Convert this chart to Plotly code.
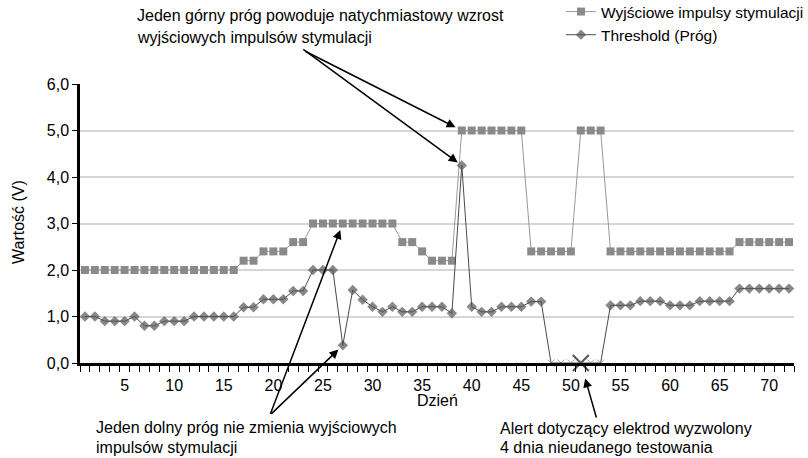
import plotly.graph_objects as go

# Days on the x axis (category axis, 72 days)
days = list(range(1, 73))

# Output pacing pulses (V)
pacing = [2.0, 2.0, 2.0, 2.0, 2.0, 2.0, 2.0, 2.0, 2.0, 2.0, 2.0, 2.0, 2.0, 2.0, 2.0, 2.0,
          2.2, 2.2, 2.4, 2.4, 2.4, 2.6, 2.6,
          3.0, 3.0, 3.0, 3.0, 3.0, 3.0, 3.0, 3.0, 3.0,
          2.6, 2.6, 2.4, 2.2, 2.2, 2.2,
          5.0, 5.0, 5.0, 5.0, 5.0, 5.0, 5.0,
          2.4, 2.4, 2.4, 2.4, 2.4,
          5.0, 5.0, 5.0,
          2.4, 2.4, 2.4, 2.4, 2.4, 2.4, 2.4, 2.4, 2.4, 2.4, 2.4, 2.4, 2.4,
          2.6, 2.6, 2.6, 2.6, 2.6, 2.6]

# Threshold (V)
threshold = [1.0, 1.0, 0.9, 0.9, 0.9, 1.0, 0.8, 0.8, 0.9, 0.9, 0.9, 1.0, 1.0, 1.0, 1.0, 1.0,
             1.2, 1.2, 1.37, 1.37, 1.37, 1.55, 1.55,
             2.0, 2.0, 2.0, 0.38, 1.57, 1.36, 1.21, 1.1, 1.21, 1.1, 1.1, 1.21, 1.21, 1.21, 1.07,
             4.25, 1.21, 1.1, 1.1, 1.21, 1.21, 1.21, 1.32, 1.32,
             0.0, 0.0, 0.0, 0.0, 0.0, 0.0,
             1.24, 1.24, 1.24, 1.33, 1.33, 1.33, 1.24, 1.24, 1.24, 1.33, 1.33, 1.33, 1.33,
             1.6, 1.6, 1.6, 1.6, 1.6, 1.6]

# Failed test days (threshold not measured) and the alert day
failed_days = [48, 49, 50, 51, 52, 53]
alert_day = [51]
alert_value = [0.0]

y_ticks = [0, 1, 2, 3, 4, 5, 6]
x_ticks = [5, 10, 15, 20, 25, 30, 35, 40, 45, 50, 55, 60, 65, 70]

FONT = "Liberation Sans, Arial, sans-serif"

fig = go.Figure()

fig.add_trace(go.Scatter(
    x=days, y=pacing,
    mode='lines+markers',
    name='Wyjściowe impulsy stymulacji',
    line=dict(color='#9a9a9a', width=1),
    marker=dict(symbol='square', size=8, color='#8a8a8a'),
    cliponaxis=False
))

symbols = ['x-thin' if d in failed_days else 'diamond' for d in days]
line_w = [1 if d in failed_days else 0 for d in days]
sizes = [7 if d in failed_days else 8 for d in days]
fig.add_trace(go.Scatter(
    x=days, y=threshold,
    mode='lines+markers',
    name='Threshold (Próg)',
    line=dict(color='#4a4a4a', width=1),
    marker=dict(symbol=symbols, size=sizes, color='#555555',
                line=dict(color='#808080', width=line_w)),
    cliponaxis=False
))

# big X marking the lead alert
fig.add_trace(go.Scatter(
    x=alert_day, y=alert_value,
    mode='markers',
    marker=dict(symbol='x-thin', size=16, line=dict(color='#555555', width=2)),
    showlegend=False, hoverinfo='skip', cliponaxis=False
))

# Convert pixel positions to paper coords
L, R, T, B = 80, 794, 84, 363
def px(x):
    return (x - L) / (R - L)
def py(y):
    return (B - y) / (B - T)

annotations = []
text_font = dict(family=FONT, size=16, color='black')

# Text blocks (one annotation per line)
for txt, x0, y0 in [
    ('Jeden górny próg powoduje natychmiastowy wzrost', 135, 15),
    ('wyjściowych impulsów stymulacji', 135, 37),
    ('Jeden dolny próg nie zmienia wyjściowych', 94, 427),
    ('impulsów stymulacji', 94, 447),
    ('Alert dotyczący elektrod wyzwolony', 498, 428),
    ('4 dnia nieudanego testowania', 498, 448),
]:
    annotations.append(dict(text=txt, xref='paper', yref='paper', x=px(x0), y=py(y0),
                            xanchor='left', yanchor='middle', showarrow=False, font=text_font))

# Axis titles
annotations.append(dict(text='Wartość (V)', xref='paper', yref='paper', x=px(18), y=py(222),
                        textangle=-90, showarrow=False, font=text_font,
                        xanchor='center', yanchor='middle'))
annotations.append(dict(text='Dzień', xref='paper', yref='paper', x=px(437), y=py(400),
                        showarrow=False, font=text_font, xanchor='center', yanchor='middle'))

# Arrows
arrow = dict(showarrow=True, arrowhead=2, arrowsize=1.2, arrowwidth=1.5, arrowcolor='black',
             text='', xref='x', yref='y')
annotations.append(dict(arrow, x=39, y=5.0, ax=-158, ay=-80, standoff=7))
annotations.append(dict(arrow, x=39, y=4.25, ax=-160, ay=-117, standoff=5))
annotations.append(dict(arrow, x=27, y=3.0, ax=-73, ay=192, standoff=7))
annotations.append(dict(arrow, x=27, y=0.38, ax=-73, ay=70, standoff=6))
annotations.append(dict(arrow, x=51, y=0.0, ax=16, ay=56, standoff=16))

fig.update_layout(
    width=808, height=458,
    margin=dict(l=L, r=808 - R, t=T, b=458 - B, autoexpand=False),
    plot_bgcolor='white', paper_bgcolor='white',
    separators=', ',
    font=dict(family=FONT, size=16, color='black'),
    showlegend=True,
    legend=dict(x=px(561), y=py(-5), xanchor='left', yanchor='top',
                bgcolor='rgba(0,0,0,0)', font=dict(size=15.5), tracegroupgap=0,
                itemwidth=30),
    annotations=annotations,
    xaxis=dict(
        range=[0.5, 72.5], tickvals=x_ticks, ticks='outside', ticklen=6,
        tickcolor='rgba(0,0,0,0)',
        minor=dict(tick0=0.5, dtick=1, ticks='outside', ticklen=6, tickcolor='black',
                   tickwidth=1, showgrid=False),
        showline=True, linecolor='black', linewidth=2.5, showgrid=False, zeroline=False,
        tickfont=dict(size=16), automargin=False
    ),
    yaxis=dict(
        range=[0, 6], tickvals=y_ticks, tickformat='.1f', ticks='outside', ticklen=5,
        tickcolor='black', showline=True, linecolor='black', linewidth=2.5,
        showgrid=True, gridcolor='#d6d6d6', gridwidth=1.5, zeroline=False,
        tickfont=dict(size=16), automargin=False
    ),
)

# drop the default 8px page margin so the figure fills the window exactly
fig.write_html("out.html", config={'displayModeBar': False},
               post_script="document.body.style.margin='0px';")
